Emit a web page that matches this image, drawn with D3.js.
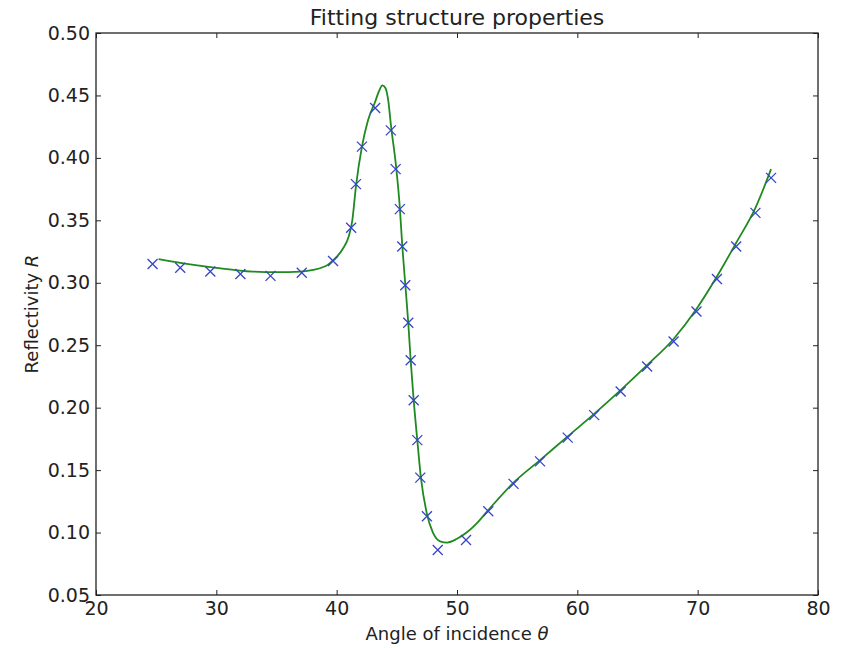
<!DOCTYPE html>
<html>
<head>
<meta charset="utf-8">
<script src="https://cdn.jsdelivr.net/npm/d3@7"></script>
<style>
  body { margin: 0; background: #fff; }
  svg text { font-family: "DejaVu Sans", sans-serif; fill: #222; }
</style>
</head>
<body>
<div id="chart"></div>
<script>
// measured points (angle in deg, reflectivity)
const measAngle = [24.7, 27.0, 29.5, 32.0, 34.5, 37.1, 39.7, 41.2, 41.6, 42.1, 43.2, 44.5,
  44.9, 45.25, 45.45, 45.7, 45.95, 46.15, 46.4, 46.7, 46.95, 47.5, 48.4, 50.75, 52.6,
  54.7, 56.9, 59.2, 61.4, 63.6, 65.8, 68.0, 69.9, 71.6, 73.2, 74.8, 76.1];
const measR = [0.315, 0.312, 0.309, 0.307, 0.3055, 0.308, 0.3175, 0.344, 0.379, 0.409, 0.440, 0.422,
  0.391, 0.359, 0.329, 0.298, 0.268, 0.238, 0.206, 0.174, 0.144, 0.113, 0.086, 0.094, 0.117,
  0.139, 0.157, 0.176, 0.194, 0.213, 0.233, 0.253, 0.277, 0.303, 0.329, 0.356, 0.384];

// fitted curve
const fitAngle = [25.2, 27, 30, 33, 35, 37, 39, 39.7, 40.5, 41.0, 41.3, 41.6, 42.1, 42.6,
  43.2, 43.5, 43.8, 44.05, 44.3, 44.5, 44.95, 45.25, 45.45, 45.7, 45.95, 46.15, 46.4, 46.7,
  47.0, 47.5, 48.0, 48.6, 49.2, 50.0, 50.8, 51.6, 52.6, 54.7, 56.9, 59.2, 61.4, 63.6, 65.8,
  68.0, 69.9, 71.6, 73.2, 74.8, 76.1];
const fitR = [0.319, 0.316, 0.312, 0.309, 0.3085, 0.309, 0.313, 0.318, 0.327, 0.337, 0.350, 0.377,
  0.409, 0.430, 0.445, 0.453, 0.458, 0.456, 0.445, 0.427, 0.392, 0.360, 0.330, 0.299, 0.268,
  0.238, 0.206, 0.174, 0.144, 0.115, 0.100, 0.093, 0.092, 0.095, 0.100, 0.107, 0.118, 0.140,
  0.158, 0.177, 0.195, 0.214, 0.234, 0.255, 0.279, 0.305, 0.332, 0.360, 0.391];

const xTicks = [20, 30, 40, 50, 60, 70, 80];
const yTicks = [0.05, 0.10, 0.15, 0.20, 0.25, 0.30, 0.35, 0.40, 0.45, 0.50];

const W = 847, H = 648;
const margin = {top: 33, right: 29, bottom: 53, left: 96};
const width = W - margin.left - margin.right;
const height = H - margin.top - margin.bottom;

const svg = d3.select("#chart").append("svg")
  .attr("width", W).attr("height", H);
const g = svg.append("g")
  .attr("transform", "translate(" + margin.left + "," + margin.top + ")");

const x = d3.scaleLinear().domain([20, 80]).range([0, width]);
const y = d3.scaleLinear().domain([0.05, 0.50]).range([height, 0]);

// fit line
const fit = fitAngle.map((a, i) => [a, fitR[i]]);
g.append("path")
  .datum(fit)
  .attr("fill", "none")
  .attr("stroke", "#1f8a1f")
  .attr("stroke-width", 1.8)
  .attr("d", d3.line().x(d => x(d[0])).y(d => y(d[1])).curve(d3.curveMonotoneX));

// markers
const s = 5;
const meas = measAngle.map((a, i) => [a, measR[i]]);
g.selectAll(".mark").data(meas).enter().append("path")
  .attr("class", "mark")
  .attr("transform", d => "translate(" + x(d[0]) + "," + y(d[1]) + ")")
  .attr("d", "M" + (-s) + "," + (-s) + "L" + s + "," + s + "M" + (-s) + "," + s + "L" + s + "," + (-s))
  .attr("stroke", "#3545c8")
  .attr("stroke-width", 1.3)
  .attr("fill", "none");

// axes: ticks inward on all sides (matplotlib classic)
const tl = 5;
const xb = g.append("g").attr("transform", "translate(0," + height + ")")
  .call(d3.axisBottom(x).tickValues(xTicks).tickSizeInner(-tl).tickSizeOuter(0).tickPadding(7));
const xt = g.append("g")
  .call(d3.axisTop(x).tickValues(xTicks).tickSizeInner(-tl).tickSizeOuter(0).tickFormat(""));
const yl = g.append("g")
  .call(d3.axisLeft(y).tickValues(yTicks).tickSizeInner(-tl).tickSizeOuter(0).tickPadding(6).tickFormat(d3.format(".2f")));
const yr = g.append("g").attr("transform", "translate(" + width + ",0)")
  .call(d3.axisRight(y).tickValues(yTicks).tickSizeInner(-tl).tickSizeOuter(0).tickFormat(""));

[xb, xt, yl, yr].forEach(a => {
  a.select(".domain").remove();
  a.selectAll("line").attr("stroke", "#222");
  a.selectAll("text").style("font-size", "19px").attr("fill", "#222");
});

g.append("rect")
  .attr("width", width).attr("height", height)
  .attr("fill", "none").attr("stroke", "#222").attr("stroke-width", 1.3);

// title and labels
svg.append("text")
  .attr("x", margin.left + width / 2).attr("y", 25)
  .attr("text-anchor", "middle")
  .style("font-size", "22px")
  .text("Fitting structure properties");

const xl = svg.append("text")
  .attr("x", margin.left + width / 2).attr("y", 640)
  .attr("text-anchor", "middle")
  .style("font-size", "18px");
xl.append("tspan").text("Angle of incidence ");
xl.append("tspan").style("font-style", "italic").text("θ");

const ylab = svg.append("text")
  .attr("transform", "translate(38," + (margin.top + height / 2) + ") rotate(-90)")
  .attr("text-anchor", "middle")
  .style("font-size", "18px");
ylab.append("tspan").text("Reflectivity ");
ylab.append("tspan").style("font-style", "italic").text("R");
</script>
</body>
</html>
